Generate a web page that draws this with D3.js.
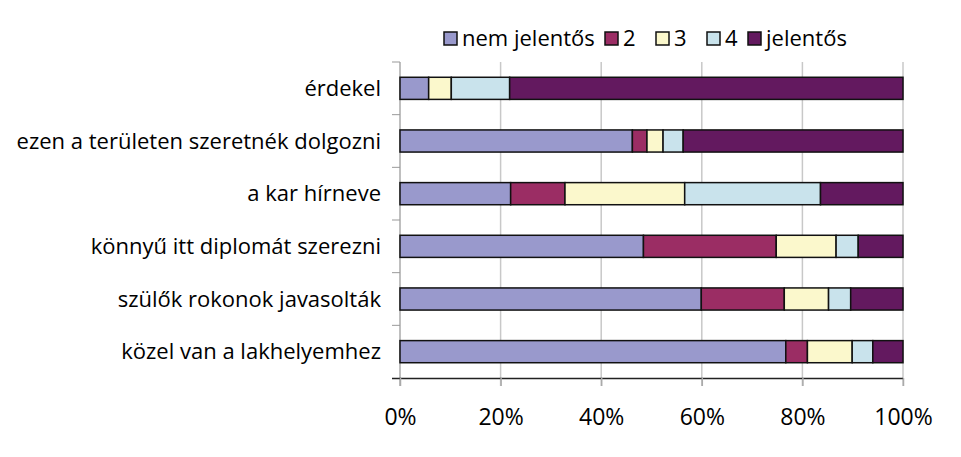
<!DOCTYPE html>
<html><head><meta charset="utf-8">
<script src="https://cdn.jsdelivr.net/npm/d3@7"></script>
<style>body{margin:0;background:#fff;} text{font-family:"Open Sans", sans-serif;fill:#000;}</style>
</head><body>
<svg id="c" width="961" height="457"></svg>
<script>
const categories = ["érdekel","ezen a területen szeretnék dolgozni","a kar hírneve","könnyű itt diplomát szerezni","szülők rokonok javasolták","közel van a lakhelyemhez"];
const seriesNames = ["nem jelentős","2","3","4","jelentős"];
const nemJelentos = [5.7, 46.2, 22.0, 48.4, 59.9, 76.7];
const s2 = [0, 2.9, 10.8, 26.4, 16.5, 4.3];
const s3 = [4.5, 3.2, 23.8, 11.9, 8.8, 8.9];
const s4 = [11.6, 4.0, 27.0, 4.4, 4.4, 4.1];
const jelentos = [78.2, 43.7, 16.4, 8.9, 10.4, 6.0];
const tickValues = [0, 0.2, 0.4, 0.6, 0.8, 1.0];
const colors = ["#9999cc","#9b2d64","#fbf8cc","#c9e3ec","#63195f"];

const seriesValues = [nemJelentos, s2, s3, s4, jelentos];
const rows = categories.map((c,i)=>{
  const o = {cat:c};
  seriesNames.forEach((s,j)=>o[s]=seriesValues[j][i]);
  return o;
});
const stack = d3.stack().keys(seriesNames).offset(d3.stackOffsetExpand)(rows);

const svg = d3.select("#c");
const L=400, R=903, T=62, B=378;
const x = d3.scaleLinear().domain([0,1]).range([L,R]);
const y = d3.scaleBand().domain(categories).range([T,B]).paddingInner(0.58).paddingOuter(0.29);
const yb = d3.scaleBand().domain(categories).range([T,B]);

svg.append("g").selectAll("line").data(tickValues.slice(1)).join("line")
  .attr("x1",d=>x(d)).attr("x2",d=>x(d)).attr("y1",T).attr("y2",B+8)
  .attr("stroke","#c8c8c8").attr("stroke-width",1.5);
svg.append("line").attr("x1",L).attr("x2",L).attr("y1",T).attr("y2",B+8).attr("stroke","#aaa").attr("stroke-width",1.5);
svg.append("g").selectAll("line").data(categories.slice(1)).join("line")
  .attr("x1",L-8).attr("x2",L).attr("y1",d=>yb(d)).attr("y2",d=>yb(d))
  .attr("stroke","#999").attr("stroke-width",1);
svg.append("line").attr("x1",L-8).attr("x2",L).attr("y1",T).attr("y2",T).attr("stroke","#999");

svg.append("g").selectAll("g").data(stack).join("g")
  .attr("fill",(d,i)=>colors[i])
  .selectAll("rect").data(d=>d).join("rect")
  .attr("x",d=>x(d[0])).attr("width",d=>Math.max(0,x(d[1])-x(d[0])))
  .attr("y",d=>y(d.data.cat)).attr("height",y.bandwidth())
  .attr("stroke","#111").attr("stroke-width",1.5);

const xAxis = d3.axisBottom(x).tickValues(tickValues).tickFormat(d3.format(".0%")).tickSize(8).tickPadding(23);
const gx = svg.append("g").attr("transform",`translate(0,${B})`).call(xAxis);
gx.select(".domain").attr("stroke","#222").attr("stroke-width",1.3).attr("d",`M${L-8},0.5H${R}`);
gx.selectAll(".tick line").attr("stroke","#aaa").attr("stroke-width",1.5);
gx.selectAll("text").style("font-size","23px").style("font-family","'Open Sans', sans-serif").attr("fill","#000");

svg.append("g").selectAll("text").data(categories).join("text")
  .attr("x",381).attr("y",d=>y(d)+y.bandwidth()/2).attr("dy","0.35em")
  .attr("text-anchor","end").style("font-size","22px").text(d=>d);

const legX = [444,605,656,707,748];
const lg = svg.append("g").selectAll("g").data(seriesNames).join("g")
  .attr("transform",(d,i)=>`translate(${legX[i]},32)`);
lg.append("rect").attr("width",13).attr("height",13).attr("fill",(d,i)=>colors[i]).attr("stroke","#111").attr("stroke-width",1.5);
lg.append("text").attr("x",18).attr("y",6.5).attr("dy","0.35em").style("font-size","22px").text(d=>d);
</script>
</body></html>
